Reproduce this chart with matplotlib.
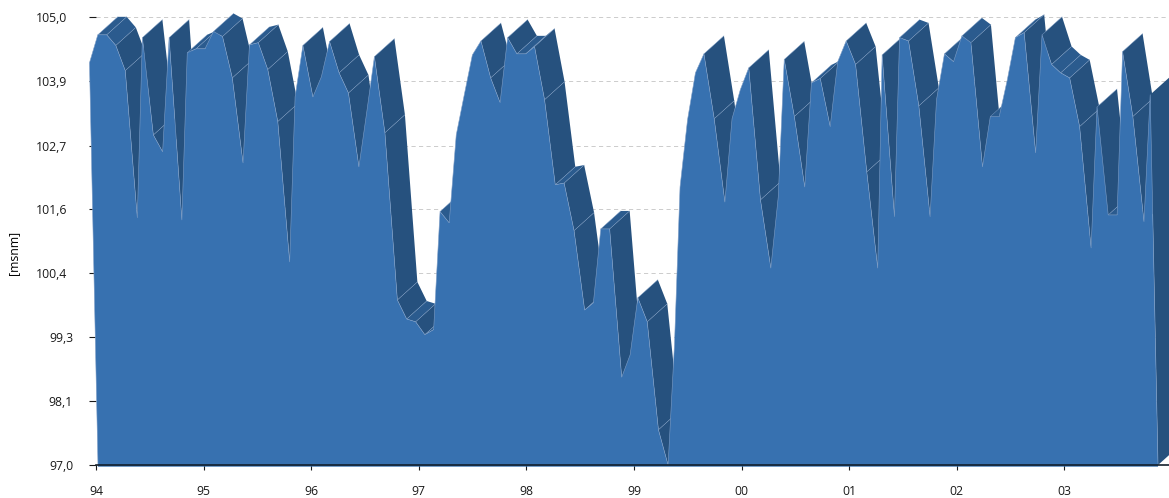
import numpy as np
import matplotlib
matplotlib.use("Agg")
import matplotlib.pyplot as plt
from matplotlib.transforms import ScaledTranslation

plt.rcParams['font.family'] = ['Open Sans', 'DejaVu Sans']

# monthly level, jan 94 to dec 03
level = [104.19, 104.69, 104.69, 104.50, 104.05, 101.42, 104.64, 102.90, 102.60, 104.64, 101.38, 104.37,
         104.44, 104.44, 104.75, 104.66, 103.92, 102.40, 104.51, 104.55, 104.07, 103.14, 100.63, 103.58,
         104.50, 103.58, 103.94, 104.57, 104.01, 103.65, 102.33, 103.30, 104.30, 102.94, 99.95, 99.61,
         99.56, 99.33, 99.42, 101.53, 101.33, 102.90, 103.62, 104.33, 104.58, 103.92, 103.48, 104.64,
         104.35, 104.35, 104.48, 103.53, 102.01, 102.04, 101.19, 99.77, 99.90, 101.22, 101.22, 98.57,
         98.97, 99.99, 99.56, 97.63, 97.00, 99.15, 101.97, 103.17, 104.01, 104.35, 103.19, 101.70,
         103.19, 103.71, 104.10, 101.74, 100.52, 101.79, 104.25, 103.23, 101.97, 103.83, 103.91, 103.05,
         104.21, 104.58, 104.16, 102.24, 100.52, 104.33, 101.44, 104.64, 104.58, 103.42, 101.44, 103.53,
         104.35, 104.21, 104.67, 104.55, 102.33, 103.23, 103.23, 103.89, 104.64, 104.73, 102.58, 104.69,
         104.16, 104.01, 103.92, 103.05, 100.88, 103.40, 101.47, 101.47, 104.39, 103.23, 101.35, 103.62]
year_labels = ['94', '95', '96', '97', '98', '99', '00', '01', '02', '03']
y_ticks = [97.0, 98.14, 99.29, 100.43, 101.57, 102.71, 103.86, 105.0]
y_labels = ['97,0', '98,1', '99,3', '100,4', '101,6', '102,7', '103,9', '105,0']

FRONT = '#3771b0'
SIDE = '#26517e'
TOP = '#2b5b8e'
EDGE = '#7d9dc6'

# pixel scales of the axes
px_month = 8.908
px_unit = 55.94
skew = 0.133      # months of lean per unit of level
depth_x = 20 / px_month
depth_y = 18 / px_unit

fig = plt.figure(figsize=(11.69, 4.98), dpi=100)
ax = fig.add_axes([96 / 1169, 33 / 498, 1073 / 1169, 465 / 498])
ax.set_xlim(-2 / px_month, 1071 / px_month)
ax.set_ylim(97, 97 + 465 / px_unit)
ax.patch.set_alpha(0)

v = np.array(level)
x = np.arange(len(v)) - skew * (v - 97)
n = len(v)

# side faces, left to right so the nearer ones cover the others
for i in range(n - 1):
    sx = (x[i + 1] - x[i]) * px_month
    sy = (v[i + 1] - v[i]) * px_unit
    if 18 * sx - 20 * sy <= 0:
        continue
    col = TOP if abs(sy) < abs(sx) * 1.3 else SIDE
    ax.fill([x[i], x[i + 1], x[i + 1] + depth_x, x[i] + depth_x],
            [v[i], v[i + 1], v[i + 1] + depth_y, v[i] + depth_y],
            color=col, lw=0, zorder=3 + i * 0.001, clip_on=False)
    ax.plot([x[i], x[i] + depth_x], [v[i], v[i] + depth_y], color=EDGE, lw=0.3,
            zorder=3 + i * 0.001, clip_on=False)

# right end of the body
x_end = n - 1
ax.fill([x_end, x[-1], x[-1] + depth_x, x_end + depth_x],
        [97, v[-1], v[-1] + depth_y, 97 + depth_y], color=SIDE, lw=0, zorder=3.5, clip_on=False)

# front face
ax.fill(np.r_[0, x, x_end], np.r_[96.97, v, 96.97], color=FRONT, lw=0, zorder=4, clip_on=False)
ax.plot(np.r_[0, x, x_end], np.r_[97, v, 97], color=EDGE, lw=0.4, zorder=4.1, clip_on=False)

ax.set_yticks(y_ticks)
ax.set_yticklabels(y_labels)
year_pos = -2 / px_month + 107.6 / px_month * np.arange(len(year_labels))
ax.set_xticks(year_pos)
ax.set_xticklabels(year_labels)
ax.tick_params(axis='y', length=5, width=0.8, pad=11.5, labelsize=8.8, colors='#1a1a1a')
ax.tick_params(axis='x', length=3.6, width=0.8, pad=10.5, labelsize=8.8, colors='#1a1a1a')

# the longer labels sit further left
shift = ScaledTranslation(-6 / 100, 0, fig.dpi_scale_trans)
for lab in ax.get_yticklabels():
    if len(lab.get_text()) > 4:
        lab.set_transform(lab.get_transform() + shift)

ax.yaxis.grid(True, color='#c4c4c4', lw=0.6, ls=(0, (5, 4)), zorder=1)
ax.set_axisbelow(True)

for side in ['left', 'right', 'top']:
    ax.spines[side].set_visible(False)
ax.spines['bottom'].set_linewidth(1.2)
ax.spines['bottom'].set_color('#14202c')
ax.spines['bottom'].set_zorder(6)

ax.set_ylabel('[msnm]', fontsize=8.8)
ax.yaxis.set_label_coords(-76 / 1073, 0.455)

fig.savefig('out.png', dpi=100)
